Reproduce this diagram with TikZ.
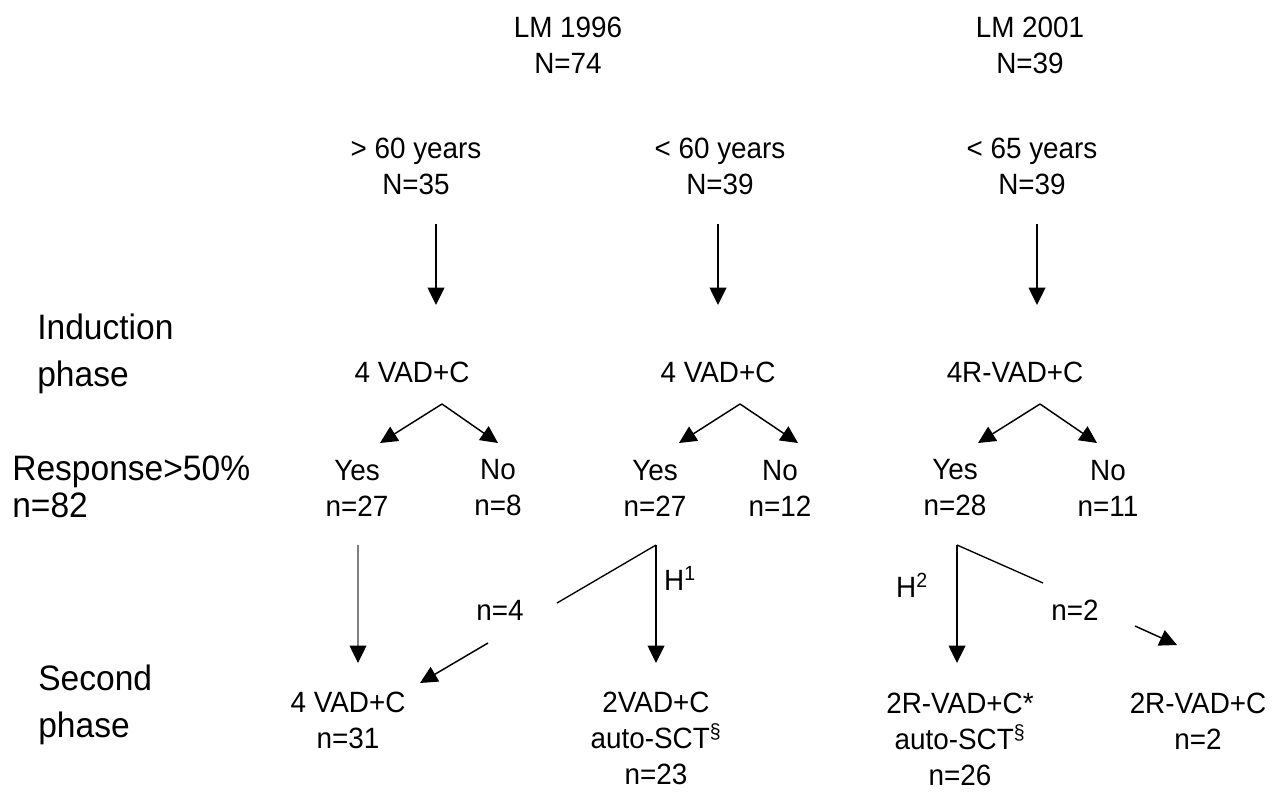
\documentclass[tikz,border=0pt]{standalone}
\usepackage{fontspec}
\setmainfont[FakeStretch=0.95]{Liberation Sans}
\usetikzlibrary{arrows.meta}
\begin{document}
\begin{tikzpicture}[x=0.75pt,y=-0.75pt,
  lbl/.style={font=\fontsize{22}{27}\selectfont, align=center, inner sep=0pt},
  side/.style={font=\fontsize{26.5}{35}\selectfont, align=left, inner sep=0pt, anchor=west},
  arr/.style={line width=1.1pt, -{Triangle[width=12.5pt,length=13pt]}},
  garr/.style={line width=1pt, draw=gray, -{Triangle[width=12.5pt,length=13pt,color=black]}},
  ln/.style={line width=1pt}]
\useasboundingbox (0,0) rectangle (1280,804);
% headers
\node[lbl] (lm96) at (568,45) {LM 1996\\N=74};
\node[lbl] (lm01) at (1030,45) {LM 2001\\N=39};
\node[lbl] (g1) at (416,166) {> 60 years\\N=35};
\node[lbl] (g2) at (720,166) {< 60 years\\N=39};
\node[lbl] (g3) at (1032,166) {< 65 years\\N=39};
% induction
\node[lbl] (i1) at (412,372) {4 VAD+C};
\node[lbl] (i2) at (718,372) {4 VAD+C};
\node[lbl] (i3) at (1015,372) {4R-VAD+C};
% side labels
\node[side] (ind) at (37,354) {Induction\\phase};
\node[side, font=\fontsize{26.5}{28}\selectfont] (resp) at (12,487) {Response>50\%\\n=82};
\node[side] (sec) at (38,705) {Second\\phase};
% responses
\node[lbl] (y1) at (357,488) {Yes\\n=27};
\node[lbl] (n1) at (498,488) {No\\n=8};
\node[lbl] (y2) at (655,488) {Yes\\n=27};
\node[lbl] (n2) at (780,488) {No\\n=12};
\node[lbl] (y3) at (955,488) {Yes\\n=28};
\node[lbl] (n3) at (1108,488) {No\\n=11};
% second phase
\node[lbl] (s1) at (348,720) {4 VAD+C\\n=31};
\node[lbl] (s2) at (656,738) {2VAD+C\\auto-SCT\textsuperscript{§}\\n=23};
\node[lbl] (s3) at (960,739) {2R-VAD+C*\\auto-SCT\textsuperscript{§}\\n=26};
\node[lbl] (s4) at (1198,721) {2R-VAD+C\\n=2};
% branch labels
\node[lbl] (nfour) at (500,610) {n=4};
\node[lbl] (ntwo) at (1075,610) {n=2};
\node[lbl] (h1) at (680,578) {H\textsuperscript{1}};
\node[lbl] (h2) at (912,585) {H\textsuperscript{2}};
% coordinates
\coordinate (a1s) at (436,224); \coordinate (a1e) at (436,305);
\coordinate (a2s) at (718,224); \coordinate (a2e) at (718,305);
\coordinate (a3s) at (1037,224); \coordinate (a3e) at (1037,305);
\coordinate (f1) at (442,404); \coordinate (f1l) at (380,443); \coordinate (f1r) at (498,443);
\coordinate (f2) at (740,404); \coordinate (f2l) at (679,443); \coordinate (f2r) at (798,443);
\coordinate (f3) at (1040,404); \coordinate (f3l) at (978,443); \coordinate (f3r) at (1097,443);
\coordinate (gs) at (358,545); \coordinate (ge) at (358,663);
\coordinate (p2) at (656,545); \coordinate (p2e) at (656,663); \coordinate (p2l) at (557,603);
\coordinate (q4s) at (488,643); \coordinate (q4e) at (420,683);
\coordinate (p3) at (957,545); \coordinate (p3e) at (957,663); \coordinate (p3r) at (1043,583);
\coordinate (q2s) at (1135,626); \coordinate (q2e) at (1177,645);
% connectors
\draw[arr] (a1s) -- (a1e);
\draw[arr] (a2s) -- (a2e);
\draw[arr] (a3s) -- (a3e);
\draw[arr] (f1) -- (f1l); \draw[arr] (f1) -- (f1r);
\draw[arr] (f2) -- (f2l); \draw[arr] (f2) -- (f2r);
\draw[arr] (f3) -- (f3l); \draw[arr] (f3) -- (f3r);
\draw[garr] (gs) -- (ge);
\draw[arr] (p2) -- (p2e);
\draw[ln] (p2l) -- (p2);
\draw[arr] (q4s) -- (q4e);
\draw[arr] (p3) -- (p3e);
\draw[ln] (p3) -- (p3r);
\draw[arr] (q2s) -- (q2e);
\end{tikzpicture}
\end{document}
